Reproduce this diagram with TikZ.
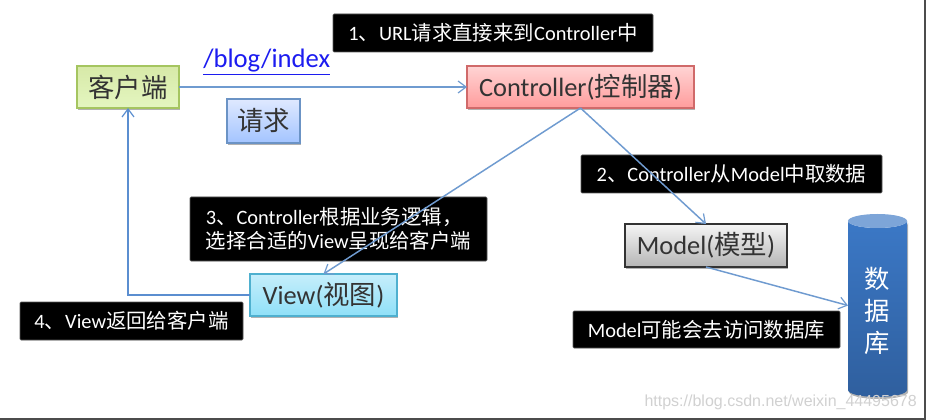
\documentclass[tikz,border=0pt]{standalone}
\usepackage{fontspec}
\setmainfont{Carlito}
\newfontfamily\cjk{Noto Sans CJK SC}
\newfontfamily\wm{Liberation Sans}
\newcommand{\zh}[1]{{\cjk #1}}
\usetikzlibrary{arrows.meta,shadows}
\definecolor{linkblue}{HTML}{1C1CF0}
\definecolor{linecol}{HTML}{6F9BD0}
\definecolor{linecolb}{HTML}{5B8ED0}
\definecolor{clientD}{HTML}{A5C560}
\definecolor{clientT}{HTML}{D7E9A8}
\definecolor{clientB}{HTML}{E4F6C0}
\definecolor{reqD}{HTML}{6B93C5}
\definecolor{reqT}{HTML}{DFE9FF}
\definecolor{reqB}{HTML}{A3C4FF}
\definecolor{ctrlD}{HTML}{D06A6A}
\definecolor{ctrlT}{HTML}{FFD4D4}
\definecolor{ctrlB}{HTML}{FF9C9C}
\definecolor{viewD}{HTML}{4FB0CF}
\definecolor{viewT}{HTML}{C6EEFB}
\definecolor{viewB}{HTML}{8FE0F8}
\definecolor{modelT}{HTML}{F5F5F5}
\definecolor{modelB}{HTML}{B5B5B5}
\definecolor{dbT}{HTML}{3B78C6}
\definecolor{dbB}{HTML}{2F5F9E}
\definecolor{dbCap}{HTML}{7DA5D8}
\tikzset{
  sz/.style 2 args={minimum width=#1*0.75pt,minimum height=#2*0.75pt,inner sep=0pt,outer sep=0pt},
  softshadow/.style={drop shadow={shadow xshift=0.8pt,shadow yshift=-1.5pt,opacity=.3,fill=black}},
  comp/.style={draw,line width=1pt,font=\fontsize{19.8}{24}\selectfont,text=black!80,softshadow},
  note/.style={draw=black!65,fill=black,line width=.5pt,rounded corners=.8pt,text=white,font=\fontsize{15.3}{18}\selectfont},
  flow/.style={draw=linecol,line width=1.1pt,-{Straight Barb[length=6pt,width=9pt,line width=.9pt]}},
}
\begin{document}
\begin{tikzpicture}[x=0.75pt,y=-0.75pt]
\useasboundingbox (0,0) rectangle (927,420);
\fill[white] (0,0) rectangle (927,420);
% outer frame
\draw[black!70,line width=1.3pt] (925,0) -- (925,419) -- (0,419);
% black notes
\node[note,sz={320}{38},anchor=north west] (n1) at (333,14) {1\zh{、}URL\zh{请求直接来到}Controller\zh{中}};
\node[note,sz={301}{38},anchor=north west] (n2) at (581,155) {2\zh{、}Controller\zh{从}Model\zh{中取数据}};
\node[note,sz={297}{64},anchor=north west,align=left] (n3) at (190,197) {3\zh{、}Controller\zh{根据业务逻辑，}\\\zh{选择合适的}View\zh{呈现给客户端}};
\node[note,sz={223}{38},anchor=north west] (n4) at (20,302) {4\zh{、}View\zh{返回给客户端}};
\node[note,sz={267}{37},anchor=north west] (n5) at (573,311) {Model\zh{可能会去访问数据库}};
% components
\node[comp,draw=clientD,top color=clientT,bottom color=clientB,sz={102}{42}] (client) at (128,87) {\zh{客户端}};
\node[comp,draw=reqD,top color=reqT,bottom color=reqB,sz={73}{44}] (req) at (263.5,121) {\raisebox{1.8pt}{\zh{请求}}};
\node[comp,draw=ctrlD,top color=ctrlT,bottom color=ctrlB,sz={227}{42}] (ctrl) at (580.5,87) {Controller(\zh{控制器})};
\node[comp,draw=viewD,top color=viewT,bottom color=viewB,sz={147}{42}] (view) at (323.5,295) {View(\zh{视图})};
\node[comp,draw=black!80,top color=modelT,bottom color=modelB,sz={162}{43}] (model) at (706,245.5) {Model(\zh{模型})};
% database cylinder
\path[top color=dbT,bottom color=dbB,softshadow] (848,221) -- (848,390) arc[start angle=180,end angle=360,x radius=22.125pt,y radius=5.25pt] -- (907,221) arc[start angle=0,end angle=-180,x radius=22.125pt,y radius=5.25pt] -- cycle;
\fill[dbCap] (877.5,221) ellipse[x radius=22.125pt,y radius=5.25pt];
\node[sz={59}{183}] (db) at (877.5,305.5) {};
\node[inner sep=0pt,align=center,text=white,font=\fontsize{19}{24}\selectfont\cjk] (dbtext) at (877.5,311) {数\\据\\库};
% link text
\node[inner sep=0pt,text=linkblue,font=\fontsize{20}{24}\selectfont,anchor=base west] (url) at (203,68) {\underline{/blog/index}};
% connectors
\coordinate (vout) at (view.west);
\coordinate (cin) at (client.south);
\draw[flow] (client.east) -- (ctrl.west);
\draw[flow,draw=linecolb] (vout) -| (cin);
\draw[flow] (ctrl.south) -- (view.north);
\draw[flow] (ctrl.south) -- (model.north);
\draw[flow] (model.south) -- (db.west);
% watermark
\node[inner sep=0pt,text=black!18,font=\fontsize{12}{14}\selectfont\wm,anchor=east] (wm) at (917,402) {https://blog.csdn.net/weixin\_44495678};
\end{tikzpicture}
\end{document}
